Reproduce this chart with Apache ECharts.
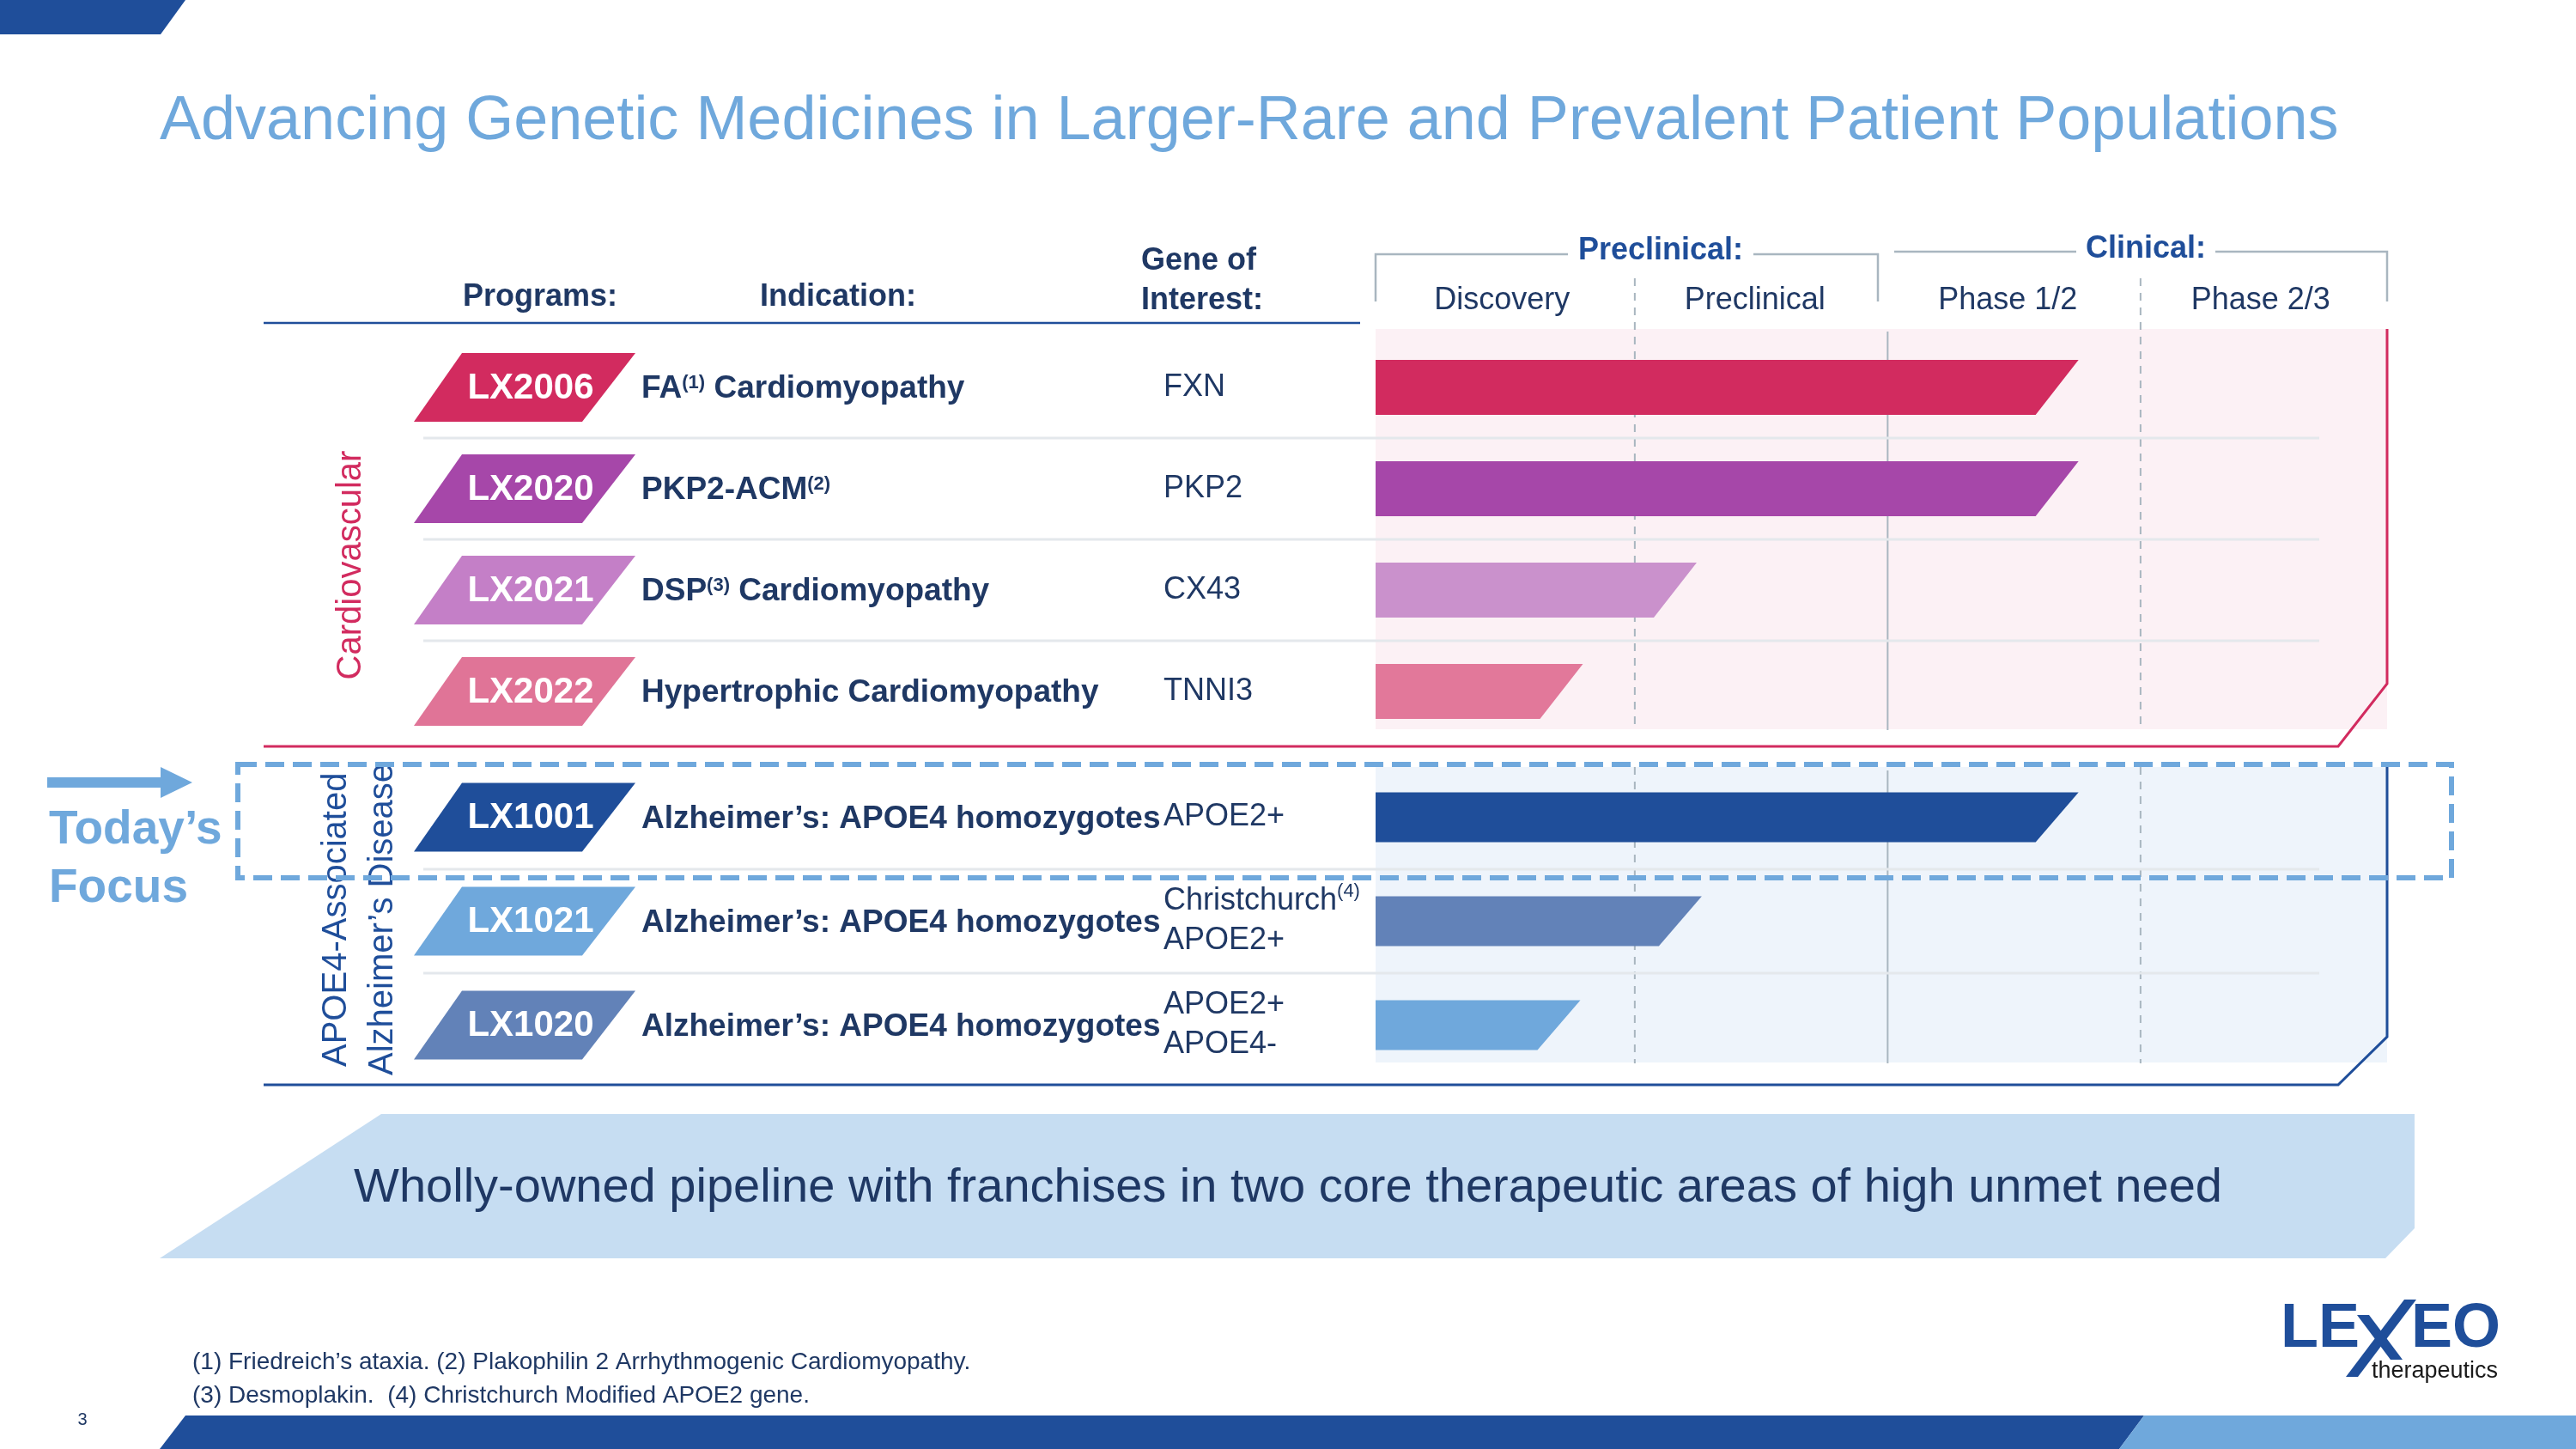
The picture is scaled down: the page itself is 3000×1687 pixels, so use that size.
<!DOCTYPE html>
<html><head><meta charset="utf-8">
<script src="https://cdn.jsdelivr.net/npm/echarts@6/dist/echarts.min.js"></script>
<style>html,body{margin:0;padding:0;background:#fff}#c{width:3000px;height:1687px}</style>
</head><body><div id="c"></div>
<script>
// ---------------- data ----------------
const titleText = 'Advancing Genetic Medicines in Larger-Rare and Prevalent Patient Populations';
const headerPrograms = 'Programs:';
const headerIndication = 'Indication:';
const headerGene = 'Gene of\nInterest:';
const stages = ['Discovery', 'Preclinical', 'Phase 1/2', 'Phase 2/3'];
const stageGroups = ['Preclinical:', 'Clinical:'];
const preclinicalStageCount = 2;
const areaCardio = 'Cardiovascular';
const areaAlzLines = ['APOE4-Associated', 'Alzheimer\u2019s Disease'];

const cardioPrograms = ['LX2006', 'LX2020', 'LX2021', 'LX2022'];
const cardioIndications = ['FA{sup|(1)} Cardiomyopathy', 'PKP2-ACM{sup|(2)}', 'DSP{sup|(3)} Cardiomyopathy', 'Hypertrophic Cardiomyopathy'];
const cardioGenes = ['FXN', 'PKP2', 'CX43', 'TNNI3'];
const cardioProgress = [2.67, 2.67, 1.16, 0.71];
const cardioLabelColors = ['#D22B5F', '#A647A9', '#C47FC7', '#E07497'];
const cardioBarColors = ['#D22B5F', '#A647A9', '#CA91CC', '#E2789A'];

const alzPrograms = ['LX1001', 'LX1021', 'LX1020'];
const alzIndications = ['Alzheimer\u2019s: APOE4 homozygotes', 'Alzheimer\u2019s: APOE4 homozygotes', 'Alzheimer\u2019s: APOE4 homozygotes'];
const alzGenes = ['APOE2+', 'Christchurch{gsup|(4)}\nAPOE2+', 'APOE2+\nAPOE4-'];
const alzProgress = [2.67, 1.18, 0.70];
const alzLabelColors = ['#1F4E9A', '#6FA8DC', '#6282B8'];
const alzBarColors = ['#1F4E9A', '#6282B8', '#6FA8DC'];

const focusLines = ['Today\u2019s', 'Focus'];
const bannerText = 'Wholly-owned pipeline with franchises in two core therapeutic areas of high unmet need';
const footnotes = ['(1) Friedreich\u2019s ataxia. (2) Plakophilin 2 Arrhythmogenic Cardiomyopathy.', '(3) Desmoplakin.  (4) Christchurch Modified APOE2 gene.'];
const pageNumber = '3';
const logoMain = ['LE', 'EO'];
const logoSub = 'therapeutics';

// ---------------- style ----------------
const FONT = '"Liberation Sans", Arial, sans-serif';
const NAVY = '#1F3864';
const BLUE = '#1F4E9A';
const LBLUE = '#6FA8DC';
const GRAYLINE = '#A9B6C0';
const CRIMSON = '#D22B5F';

function txt(o) {
  const s = Object.assign({}, o.style);
  if (s.align) s.textAlign = s.align;
  if (s.verticalAlign) s.textVerticalAlign = s.verticalAlign;
  return Object.assign({}, o, {type: 'text', style: s});
}

function rowRenderer(cfg) {
  return function (params, api) {
    const i = params.dataIndex;
    const v = api.value(0);
    const x0 = params.coordSys.x;
    const e = api.coord([v, i]);
    const y = e[1];
    const band = api.size([0, 1])[1];
    const h = cfg.barH, s = cfg.slant;
    const kids = [];
    if (i > 0) {
      kids.push({type: 'line', shape: {x1: 493, y1: y - band / 2, x2: 2701, y2: y - band / 2},
        style: {stroke: '#E4E8EC', lineWidth: 3}});
    }
    kids.push({type: 'polygon', shape: {points: [[x0, y - h / 2], [e[0] + s / 2, y - h / 2], [e[0] - s / 2, y + h / 2], [x0, y + h / 2]]},
      style: {fill: cfg.barColors[i]}});
    kids.push({type: 'polygon', shape: {points: [[538, y - 40], [740, y - 40], [678, y + 40], [482, y + 40]]},
      style: {fill: cfg.labelColors[i]}});
    kids.push({type: 'text', style: {text: cfg.programs[i], x: 618, y: y + 1, align: 'center', verticalAlign: 'middle',
      textAlign: 'center', textVerticalAlign: 'middle',
      fill: '#ffffff', fontSize: 42, fontWeight: 'bold', fontFamily: FONT}});
    kids.push({type: 'text', style: {text: cfg.indications[i], x: 747, y: y + 2, align: 'left', verticalAlign: 'middle',
      textAlign: 'left', textVerticalAlign: 'middle',
      fill: NAVY, fontSize: 37, fontWeight: 'bold', fontFamily: FONT,
      rich: {sup: {fontSize: 22, fontWeight: 'bold', fill: NAVY, fontFamily: FONT, verticalAlign: 'top'}}}});
    kids.push({type: 'text', style: {text: cfg.genes[i], x: 1355, y: y, align: 'left', verticalAlign: 'middle',
      textAlign: 'left', textVerticalAlign: 'middle',
      fill: NAVY, fontSize: 36, fontFamily: FONT, lineHeight: 46,
      rich: {gsup: {fontSize: 22, fill: NAVY, fontFamily: FONT, verticalAlign: 'top', lineHeight: 46}}}});
    return {type: 'group', children: kids};
  };
}

function stageLineRenderer(top, topSolid, bottom) {
  return function (params, api) {
    const b = api.value(0);
    const x = api.coord([b, 0])[0];
    const solid = b === preclinicalStageCount;
    return {type: 'line', shape: {x1: x, y1: solid ? topSolid : top, x2: x, y2: bottom},
      style: {stroke: GRAYLINE, lineWidth: 2, lineDash: solid ? null : [9, 8]}};
  };
}

const boundaries = stages.slice(1).map((_, i) => [i + 1, 0]);

const graphics = [
  // backgrounds
  {type: 'rect', z: 0, shape: {x: 1602, y: 383, width: 1178, height: 466}, style: {fill: '#FCF1F5'}},
  {type: 'rect', z: 0, shape: {x: 1602, y: 893, width: 1178, height: 344}, style: {fill: '#EEF4FB'}},
  // top-left tab
  {type: 'polygon', z: 1, shape: {points: [[0, 0], [216, 0], [187, 40], [0, 40]]}, style: {fill: BLUE}},
  // title
  txt({z: 1, style: {text: titleText, x: 186, y: 142, align: 'left', verticalAlign: 'middle', font: '72px ' + FONT, fill: LBLUE}}),
  // header
  txt({z: 1, style: {text: headerPrograms, x: 629, y: 346, align: 'center', verticalAlign: 'middle', font: 'bold 36px ' + FONT, fill: NAVY}}),
  txt({z: 1, style: {text: headerIndication, x: 976, y: 346, align: 'center', verticalAlign: 'middle', font: 'bold 36px ' + FONT, fill: NAVY}}),
  txt({z: 1, style: {text: headerGene, x: 1329, y: 327, align: 'left', verticalAlign: 'middle', font: 'bold 36px ' + FONT, lineHeight: 46, fill: NAVY}}),
  {type: 'line', z: 1, shape: {x1: 307, y1: 376, x2: 1584, y2: 376}, style: {stroke: BLUE, lineWidth: 2.5}},
  // brackets
  {type: 'polyline', z: 1, shape: {points: [[1602, 351], [1602, 296], [1826, 296]]}, style: {stroke: GRAYLINE, lineWidth: 2.5, fill: null}},
  {type: 'polyline', z: 1, shape: {points: [[2042, 296], [2187, 296], [2187, 351]]}, style: {stroke: GRAYLINE, lineWidth: 2.5, fill: null}},
  {type: 'polyline', z: 1, shape: {points: [[2206, 293], [2418, 293]]}, style: {stroke: GRAYLINE, lineWidth: 2.5, fill: null}},
  {type: 'polyline', z: 1, shape: {points: [[2580, 293], [2780, 293], [2780, 351]]}, style: {stroke: GRAYLINE, lineWidth: 2.5, fill: null}},
  txt({z: 1, style: {text: stageGroups[0], x: 1934, y: 292, align: 'center', verticalAlign: 'middle', font: 'bold 36px ' + FONT, fill: BLUE}}),
  txt({z: 1, style: {text: stageGroups[1], x: 2499, y: 290, align: 'center', verticalAlign: 'middle', font: 'bold 36px ' + FONT, fill: BLUE}}),
  // section outlines
  {type: 'polyline', z: 4, shape: {points: [[307, 869], [2723, 869], [2780, 796], [2780, 383]]}, style: {stroke: CRIMSON, lineWidth: 3, fill: null}},
  {type: 'polyline', z: 4, shape: {points: [[307, 1263], [2723, 1263], [2780, 1207], [2780, 893]]}, style: {stroke: BLUE, lineWidth: 3, fill: null}},
  // area labels
  txt({z: 6, x: 409, y: 658, rotation: Math.PI / 2, style: {text: areaCardio, x: 0, y: 0, align: 'center', verticalAlign: 'middle', font: '40px ' + FONT, fill: CRIMSON}}),
  txt({z: 6, x: 392, y: 1242, rotation: Math.PI / 2, style: {text: areaAlzLines[0], x: 0, y: 0, align: 'left', verticalAlign: 'middle', font: '40px ' + FONT, fill: BLUE}}),
  txt({z: 6, x: 446, y: 1252, rotation: Math.PI / 2, style: {text: areaAlzLines[1], x: 0, y: 0, align: 'left', verticalAlign: 'middle', font: '40px ' + FONT, fill: BLUE}}),
  // today's focus
  {type: 'polygon', z: 6, shape: {points: [[55, 905], [187, 905], [187, 893], [224, 911], [187, 929], [187, 917], [55, 917]]}, style: {fill: LBLUE}},
  txt({z: 6, style: {text: focusLines[0], x: 57, y: 967, align: 'left', verticalAlign: 'middle', font: 'bold 55px ' + FONT, fill: LBLUE}}),
  txt({z: 6, style: {text: focusLines[1], x: 57, y: 1035, align: 'left', verticalAlign: 'middle', font: 'bold 55px ' + FONT, fill: LBLUE}}),
  {type: 'rect', z: 20, shape: {x: 277, y: 890, width: 2578, height: 132}, style: {fill: null, stroke: LBLUE, lineWidth: 6, lineDash: [22, 10]}},
  // banner
  {type: 'polygon', z: 1, shape: {points: [[444, 1297], [2812, 1297], [2812, 1430], [2778, 1465], [186, 1465]]}, style: {fill: '#C6DDF2'}},
  txt({z: 2, style: {text: bannerText, x: 1500, y: 1384, align: 'center', verticalAlign: 'middle', font: '56px ' + FONT, fill: NAVY}}),
  // footnotes
  txt({z: 1, style: {text: footnotes[0], x: 224, y: 1586, align: 'left', verticalAlign: 'middle', font: '28px ' + FONT, fill: NAVY}}),
  txt({z: 1, style: {text: footnotes[1], x: 224, y: 1625, align: 'left', verticalAlign: 'middle', font: '28px ' + FONT, fill: NAVY}}),
  txt({z: 1, style: {text: pageNumber, x: 96, y: 1653, align: 'center', verticalAlign: 'middle', font: '20px ' + FONT, fill: NAVY}}),
  // bottom bar
  {type: 'polygon', z: 1, shape: {points: [[216, 1648], [2497, 1648], [2468, 1687], [186, 1687]]}, style: {fill: BLUE}},
  {type: 'polygon', z: 1, shape: {points: [[2497, 1648], [3000, 1648], [3000, 1687], [2468, 1687]]}, style: {fill: LBLUE}},
  // logo
  txt({z: 1, style: {text: logoMain[0], x: 2656, y: 1584, align: 'left', verticalAlign: 'bottom', font: 'bold 72px ' + FONT, fill: BLUE}}),
  txt({z: 1, style: {text: logoMain[1], x: 2912, y: 1584, align: 'right', verticalAlign: 'bottom', font: 'bold 72px ' + FONT, fill: BLUE}}),
  {type: 'polygon', z: 1, shape: {points: [[2800, 1513], [2814, 1513], [2746, 1603], [2732, 1603]]}, style: {fill: BLUE}},
  {type: 'polygon', z: 1, shape: {points: [[2745, 1531], [2759, 1531], [2798, 1583], [2784, 1583]]}, style: {fill: BLUE}},
  txt({z: 1, style: {text: logoSub, x: 2909, y: 1597, align: 'right', verticalAlign: 'middle', font: '27px ' + FONT, fill: '#1A1A1A'}})
];

const chart = echarts.init(document.getElementById('c'), null, {renderer: 'canvas'});
chart.setOption({
  animation: false,
  backgroundColor: '#ffffff',
  grid: [
    {left: 1602, width: 1178, top: 392, height: 472},
    {left: 1602, width: 1178, top: 891, height: 363}
  ],
  xAxis: [
    {type: 'value', gridIndex: 0, min: -0.025, max: 3.975, show: false},
    {type: 'category', gridIndex: 0, position: 'top', data: stages, boundaryGap: true,
      axisLine: {show: false}, axisTick: {show: false}, splitLine: {show: false},
      axisLabel: {interval: 0, margin: 24, fontSize: 36, color: NAVY, fontFamily: FONT}},
    {type: 'value', gridIndex: 1, min: -0.025, max: 3.975, show: false}
  ],
  yAxis: [
    {type: 'category', gridIndex: 0, inverse: true, data: cardioPrograms, show: false},
    {type: 'category', gridIndex: 1, inverse: true, data: alzPrograms, show: false}
  ],
  graphic: {elements: graphics},
  series: [
    {type: 'custom', xAxisIndex: 0, yAxisIndex: 0, z: 3, silent: true, clip: false,
      data: boundaries, encode: {x: 0, y: 1}, renderItem: stageLineRenderer(324, 386, 850)},
    {type: 'custom', xAxisIndex: 0, yAxisIndex: 0, z: 5, silent: true, clip: false,
      data: cardioProgress.map((v, i) => [v, i]), encode: {x: 0, y: 1},
      renderItem: rowRenderer({barH: 64, slant: 50, programs: cardioPrograms, indications: cardioIndications,
        genes: cardioGenes, labelColors: cardioLabelColors, barColors: cardioBarColors})},
    {type: 'custom', xAxisIndex: 2, yAxisIndex: 1, z: 3, silent: true, clip: false,
      data: boundaries, encode: {x: 0, y: 1}, renderItem: stageLineRenderer(893, 897, 1238)},
    {type: 'custom', xAxisIndex: 2, yAxisIndex: 1, z: 5, silent: true, clip: false,
      data: alzProgress.map((v, i) => [v, i]), encode: {x: 0, y: 1},
      renderItem: rowRenderer({barH: 58, slant: 50, programs: alzPrograms, indications: alzIndications,
        genes: alzGenes, labelColors: alzLabelColors, barColors: alzBarColors})}
  ]
});
</script></body></html>
